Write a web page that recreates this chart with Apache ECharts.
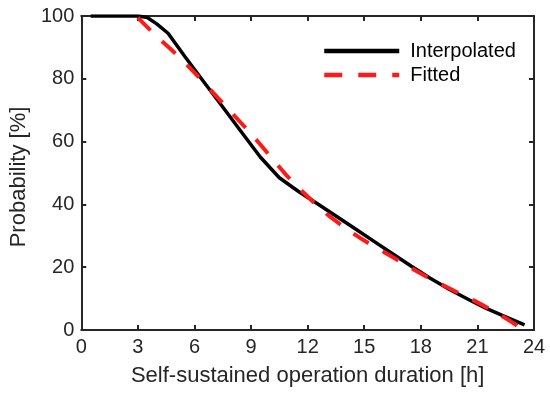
<!DOCTYPE html>
<html><head><meta charset="utf-8">
<script src="https://cdn.jsdelivr.net/npm/echarts@6/dist/echarts.min.js"></script>
<style>html,body{margin:0;padding:0;background:#fff}#c{width:550px;height:399px}</style>
</head><body><div id="c"></div>
<script>
const seriesNames = ['Interpolated', 'Fitted'];
const xTicks = [0, 3, 6, 9, 12, 15, 18, 21, 24];
const yTicks = [0, 20, 40, 60, 80, 100];
const interpX = [0.5, 1, 2, 3, 3.5, 4, 4.6, 5.5, 6.5, 7.5, 8.5, 9.5, 10.5, 11.5, 12.5, 13.5, 14.5, 15.5, 16.5, 17.5, 18.5, 19.5, 20.5, 21.5, 22.5, 23.5];
const interpY = [100, 100, 100, 100, 99.5, 97.5, 94.5, 87, 79, 71, 63, 55, 48.5, 44.2, 40.3, 36.3, 32.3, 28.3, 24.3, 20.3, 16.5, 13, 9.8, 6.8, 4.2, 1.6];
const fitX = [3, 4, 5, 6, 7, 8, 9, 10, 11, 12, 13, 14, 15, 16, 17, 18, 19, 20, 21, 22, 23, 23.3];
const fitY = [99.5, 93.5, 88, 82, 75.5, 69, 62.5, 55.5, 48.5, 42.5, 37, 32.5, 28.5, 25, 21.5, 18, 14.8, 11.8, 8.8, 5.5, 1.8, 0];

const chart = echarts.init(document.getElementById('c'), null, {renderer: 'canvas'});
const axisColor = '#262626';
const font = 'Liberation Sans, Arial, sans-serif';
const zip = (xs, ys) => xs.map((x, i) => [x, ys[i]]);
const line = {show: true, onZero: false, lineStyle: {color: axisColor, width: 2}};
const tick = {show: true, inside: true, length: 5, lineStyle: {color: axisColor, width: 2}};
chart.setOption({
  animation: false,
  grid: {left: 78, right: 16, top: 16, bottom: 69},
  legend: {
    orient: 'vertical', left: 317, top: 36, itemWidth: 75, itemHeight: 20, itemGap: 4,
    itemStyle: {opacity: 0}, lineStyle: {width: 4.5},
    textStyle: {fontFamily: font, fontSize: 20, color: '#000', padding: [0, 0, 0, 6]},
    data: seriesNames
  },
  xAxis: [{
    type: 'value', min: xTicks[0], max: xTicks[xTicks.length - 1], interval: 3,
    name: 'Self-sustained operation duration [h]', nameLocation: 'middle', nameGap: 35,
    nameTextStyle: {fontFamily: font, fontSize: 22, color: '#262626'},
    axisLine: line, axisTick: tick,
    axisLabel: {fontFamily: font, fontSize: 20, color: '#262626', margin: 7},
    splitLine: {show: false}
  }, {
    type: 'value', position: 'top', min: 0, max: 24, interval: 3,
    axisLine: line, axisTick: tick,
    axisLabel: {show: false}, splitLine: {show: false}
  }],
  yAxis: [{
    type: 'value', min: yTicks[0], max: yTicks[yTicks.length - 1], interval: 20,
    name: 'Probability [%]', nameLocation: 'middle', nameGap: 50,
    nameTextStyle: {fontFamily: font, fontSize: 22, color: '#262626', padding: [0, 8, 0, 0]},
    axisLine: line, axisTick: tick,
    axisLabel: {fontFamily: font, fontSize: 20, color: '#262626', margin: 7},
    splitLine: {show: false}
  }, {
    type: 'value', position: 'right', min: 0, max: 100, interval: 20,
    axisLine: line, axisTick: tick,
    axisLabel: {show: false}, splitLine: {show: false}
  }],
  series: [{
    name: seriesNames[0], type: 'line', symbol: 'none', smooth: false,
    data: zip(interpX, interpY), z: 3,
    lineStyle: {color: '#000', width: 3.5}, itemStyle: {color: '#000'}
  }, {
    name: seriesNames[1], type: 'line', symbol: 'none', smooth: 0.3,
    data: zip(fitX, fitY), z: 4,
    lineStyle: {color: '#ff1a1a', width: 4, type: [18, 16]}, itemStyle: {color: '#ff1a1a'}
  }]
});
</script></body></html>
